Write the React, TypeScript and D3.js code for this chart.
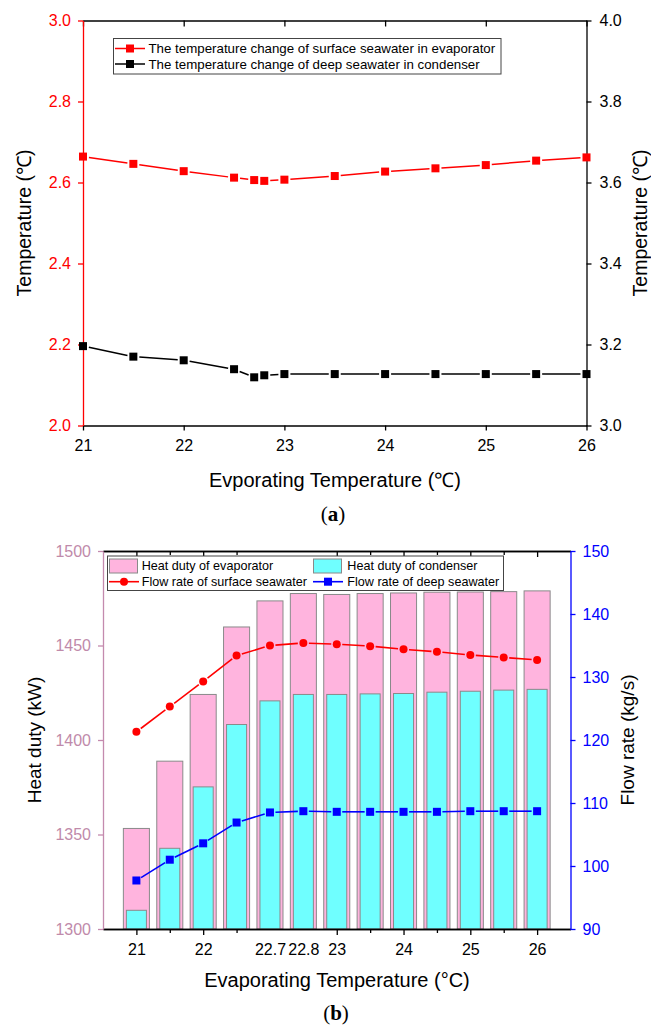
import { useEffect, useRef } from 'react';
import * as d3 from 'd3';

// ---- (a) temperature change of seawater ----
const evapTemps = [21, 21.5, 22, 22.5, 22.7, 22.8, 23, 23.5, 24, 24.5, 25, 25.5, 26];
const surfaceDeltaT = [2.664, 2.646, 2.628, 2.612, 2.606, 2.604, 2.607, 2.616, 2.627, 2.635, 2.643, 2.654, 2.662];
const deepDeltaT = [3.196, 3.17, 3.161, 3.139, 3.119, 3.124, 3.127, 3.127, 3.127, 3.127, 3.127, 3.127, 3.127];
const topXTicks = [21, 22, 23, 24, 25, 26];
const topLeftTicks = [2.0, 2.2, 2.4, 2.6, 2.8, 3.0];
const topRightTicks = [3.0, 3.2, 3.4, 3.6, 3.8, 4.0];
const topLegend = [
  'The temperature change of surface seawater in evaporator',
  'The temperature change of deep seawater in condenser',
];

// ---- (b) heat duty and flow rate ----
const categories = ['21', '21.5', '22', '22.5', '22.7', '22.8', '23', '23.5', '24', '24.5', '25', '25.5', '26'];
const evapDuty = [1353.2, 1388.8, 1424.1, 1459.8, 1473.6, 1477.5, 1477.0, 1477.5, 1477.8, 1478.2, 1478.3, 1478.5, 1478.9];
const condDuty = [1309.9, 1342.7, 1375.2, 1408.2, 1420.7, 1424.1, 1424.1, 1424.4, 1424.6, 1425.3, 1425.8, 1426.4, 1426.8];
const surfaceFlow = [121.3, 125.3, 129.3, 133.4, 135.0, 135.4, 135.2, 134.9, 134.4, 134.0, 133.5, 133.1, 132.7];
const deepFlow = [97.7, 101.0, 103.6, 106.9, 108.5, 108.7, 108.6, 108.6, 108.6, 108.6, 108.7, 108.7, 108.7];
const majorCats = ['21', '22', '23', '24', '25', '26'];
const minorCats = ['21.5', '22.5', '23.5', '24.5', '25.5'];
const labelCats = ['21', '22', '22.7', '22.8', '23', '24', '25', '26'];
const dutyTicks = [1300, 1350, 1400, 1450, 1500];
const flowTicks = [90, 100, 110, 120, 130, 140, 150];
const bottomLegend = ['Heat duty of evaporator', 'Heat duty of condenser', 'Flow rate of surface seawater', 'Flow rate of deep seawater'];

const FONT = '"Liberation Sans", Arial, sans-serif';
const PINK = '#ffb4de';
const CYAN = '#6fffff';
const MAUVE = '#c48aae';

type Pt = [number, number];

// Origin-style line: segments stop short of the markers
function gappedLine(g: any, pts: Pt[], color: string, gap: number, width = 1.5) {
  for (let i = 0; i < pts.length - 1; i++) {
    const [x1, y1] = pts[i];
    const [x2, y2] = pts[i + 1];
    const len = Math.hypot(x2 - x1, y2 - y1);
    if (len <= gap * 2) continue;
    const ux = (x2 - x1) / len, uy = (y2 - y1) / len;
    g.append('line')
      .attr('x1', x1 + ux * gap).attr('y1', y1 + uy * gap)
      .attr('x2', x2 - ux * gap).attr('y2', y2 - uy * gap)
      .attr('stroke', color).attr('stroke-width', width);
  }
}

function styleAxis(sel: any, color: string, size: number, textColor = color) {
  sel.select('.domain').attr('stroke', color).attr('stroke-width', 1.3);
  sel.selectAll('.tick line').attr('stroke', color).attr('stroke-width', 1.3);
  sel.selectAll('.tick text').attr('fill', textColor).attr('font-size', size).attr('font-family', FONT);
}

function panelLabel(svg: any, x: number, y: number, letter: string) {
  const t = svg.append('text').attr('x', x).attr('y', y).attr('text-anchor', 'middle')
    .attr('font-family', '"Liberation Serif", "DejaVu Serif", serif').attr('font-size', 21).attr('fill', '#000');
  t.append('tspan').text('(');
  t.append('tspan').attr('font-weight', 700).text(letter);
  t.append('tspan').text(')');
}

export default function App() {
  const svgRef = useRef<SVGSVGElement | null>(null);

  useEffect(() => {
    const svg = d3.select(svgRef.current);
    svg.selectAll('*').remove();

    // ================= (a) =================
    const xT = d3.scaleLinear().domain([21, 26]).range([83, 586.5]);
    const yT = d3.scaleLinear().domain([2, 3]).range([425.5, 20.5]);
    const yTR = d3.scaleLinear().domain([3, 4]).range([425.5, 20.5]);
    const a = svg.append('g');

    // top axis (inward ticks, no labels)
    const topAx = a.append('g').attr('transform', `translate(0,${yT.range()[1]})`)
      .call(d3.axisTop(xT).tickValues(topXTicks).tickSizeInner(-6).tickSizeOuter(0).tickFormat(() => ''));
    styleAxis(topAx, '#000', 16);

    const botAx = a.append('g').attr('transform', `translate(0,${yT.range()[0]})`)
      .call(d3.axisBottom(xT).tickValues(topXTicks).tickSizeInner(5).tickSizeOuter(0).tickPadding(9).tickFormat(d3.format('d')));
    styleAxis(botAx, '#000', 16);

    const rAx = a.append('g').attr('transform', `translate(${xT.range()[1]},0)`)
      .call(d3.axisRight(yTR).tickValues(topRightTicks).tickSizeInner(5).tickSizeOuter(0).tickPadding(8).tickFormat(d3.format('.1f')));
    styleAxis(rAx, '#000', 16);

    const lAx = a.append('g').attr('transform', `translate(${xT.range()[0]},0)`)
      .call(d3.axisLeft(yT).tickValues(topLeftTicks).tickSizeInner(5).tickSizeOuter(0).tickPadding(7).tickFormat(d3.format('.1f')));
    styleAxis(lAx, '#ff0000', 16);

    // series
    const redPts: Pt[] = evapTemps.map((t, i) => [xT(t), yT(surfaceDeltaT[i])]);
    const blackPts: Pt[] = evapTemps.map((t, i) => [xT(t), yTR(deepDeltaT[i])]);
    gappedLine(a, redPts, '#ff0000', 6);
    gappedLine(a, blackPts, '#000', 6);
    const sq = 8;
    a.selectAll('rect.red').data(redPts).join('rect').attr('class', 'red')
      .attr('x', d => d[0] - sq / 2).attr('y', d => d[1] - sq / 2).attr('width', sq).attr('height', sq).attr('fill', '#ff0000');
    a.selectAll('rect.blk').data(blackPts).join('rect').attr('class', 'blk')
      .attr('x', d => d[0] - sq / 2).attr('y', d => d[1] - sq / 2).attr('width', sq).attr('height', sq).attr('fill', '#000');

    // legend
    const lgA = a.append('g');
    lgA.append('rect').attr('x', 113.5).attr('y', 38.5).attr('width', 387.5).attr('height', 35.5)
      .attr('fill', '#fff').attr('stroke', '#444').attr('stroke-width', 1);
    [['#ff0000', 48.5], ['#000', 64]].forEach(([c, y], i) => {
      lgA.append('line').attr('x1', 115).attr('x2', 145).attr('y1', y).attr('y2', y).attr('stroke', c).attr('stroke-width', 1.5);
      lgA.append('rect').attr('x', 126).attr('y', (y as number) - 4).attr('width', 8).attr('height', 8).attr('fill', c as string);
      lgA.append('text').attr('x', 148.5).attr('y', (y as number) + 4.5).attr('font-family', FONT).attr('font-size', 13.3)
        .attr('fill', '#000').text(topLegend[i]);
    });

    // titles
    a.append('text').attr('transform', `translate(31,223) rotate(-90)`).attr('text-anchor', 'middle')
      .attr('font-family', FONT).attr('font-size', 19.5).text('Temperature (℃)');
    a.append('text').attr('transform', `translate(647,223) rotate(-90)`).attr('text-anchor', 'middle')
      .attr('font-family', FONT).attr('font-size', 19.5).text('Temperature (℃)');
    a.append('text').attr('x', 335).attr('y', 487).attr('text-anchor', 'middle')
      .attr('font-family', FONT).attr('font-size', 20).text('Evporating Temperature (℃)');
    panelLabel(svg, 333, 521, 'a');

    // ================= (b) =================
    const xB = d3.scalePoint<string>().domain(categories).range([103, 570.5]).padding(1);
    const step = xB.step();
    const yB = d3.scaleLinear().domain([1300, 1500]).range([929, 551]);
    const yBR = d3.scaleLinear().domain([90, 150]).range([929, 551]);
    const b = svg.append('g');

    // bars
    const wEvap = step * 0.78, wCond = step * 0.6;
    b.selectAll('rect.evap').data(categories).join('rect').attr('class', 'evap')
      .attr('x', c => (xB(c) as number) - wEvap / 2).attr('width', wEvap)
      .attr('y', (_, i) => yB(evapDuty[i])).attr('height', (_, i) => yB(1300) - yB(evapDuty[i]))
      .attr('fill', PINK).attr('stroke', '#8a8a8a').attr('stroke-width', 1);
    b.selectAll('rect.cond').data(categories).join('rect').attr('class', 'cond')
      .attr('x', c => (xB(c) as number) - wCond / 2).attr('width', wCond)
      .attr('y', (_, i) => yB(condDuty[i])).attr('height', (_, i) => yB(1300) - yB(condDuty[i]))
      .attr('fill', CYAN).attr('stroke', '#8a8a8a').attr('stroke-width', 1);

    // axes
    const bTop = b.append('g').attr('transform', `translate(0,551)`)
      .call(d3.axisTop(xB).tickValues(majorCats).tickSizeInner(-6).tickSizeOuter(0).tickFormat(() => ''));
    styleAxis(bTop, '#000', 16);
    const bTopMinor = b.append('g').attr('transform', `translate(0,551)`)
      .call(d3.axisTop(xB).tickValues(minorCats).tickSizeInner(-4).tickSizeOuter(0).tickFormat(() => ''));
    styleAxis(bTopMinor, '#000', 16);

    const bBot = b.append('g').attr('transform', `translate(0,929)`)
      .call(d3.axisBottom(xB).tickValues(majorCats).tickSizeInner(6).tickSizeOuter(0).tickFormat(() => ''));
    styleAxis(bBot, '#000', 16);
    const bBotMinor = b.append('g').attr('transform', `translate(0,929)`)
      .call(d3.axisBottom(xB).tickValues(minorCats).tickSizeInner(4).tickSizeOuter(0).tickFormat(() => ''));
    styleAxis(bBotMinor, '#000', 16);
    const bLabels = b.append('g').attr('transform', `translate(0,929)`)
      .call(d3.axisBottom(xB).tickValues(labelCats).tickSize(0).tickPadding(15));
    bLabels.select('.domain').remove();
    styleAxis(bLabels, '#000', 16);

    const bL = b.append('g').attr('transform', `translate(103,0)`)
      .call(d3.axisLeft(yB).tickValues(dutyTicks).tickSizeInner(5).tickSizeOuter(0).tickPadding(7).tickFormat(d3.format('d')));
    styleAxis(bL, MAUVE, 16, '#c08aaa');

    const bR = b.append('g').attr('transform', `translate(570.5,0)`)
      .call(d3.axisRight(yBR).tickValues(flowTicks).tickSizeInner(5).tickSizeOuter(0).tickPadding(7).tickFormat(d3.format('d')));
    styleAxis(bR, '#0000ff', 16);

    // flow lines
    const sPts: Pt[] = categories.map((c, i) => [xB(c) as number, yBR(surfaceFlow[i])]);
    const dPts: Pt[] = categories.map((c, i) => [xB(c) as number, yBR(deepFlow[i])]);
    gappedLine(b, sPts, '#ff0000', 5.5, 1.6);
    gappedLine(b, dPts, '#0000ff', 5.5, 1.6);
    b.selectAll('circle.sf').data(sPts).join('circle').attr('class', 'sf')
      .attr('cx', d => d[0]).attr('cy', d => d[1]).attr('r', 4).attr('fill', '#ff0000');
    b.selectAll('rect.df').data(dPts).join('rect').attr('class', 'df')
      .attr('x', d => d[0] - 4).attr('y', d => d[1] - 4).attr('width', 8).attr('height', 8).attr('fill', '#0000ff');

    // legend
    const lgB = b.append('g');
    lgB.append('rect').attr('x', 107.5).attr('y', 556).attr('width', 396).attr('height', 34.5)
      .attr('fill', '#fff').attr('stroke', '#444').attr('stroke-width', 1);
    const colX = [109, 313];
    const textX = [141.7, 347.3];
    [PINK, CYAN].forEach((c, i) => {
      lgB.append('rect').attr('x', colX[i] + 0.5).attr('y', 559).attr('width', 28).attr('height', 14)
        .attr('fill', c).attr('stroke', '#8a8a8a');
      lgB.append('text').attr('x', textX[i]).attr('y', 570.3).attr('font-family', FONT).attr('font-size', 12.6)
        .text(bottomLegend[i]);
    });
    ['#ff0000', '#0000ff'].forEach((c, i) => {
      const y = 581.7;
      lgB.append('line').attr('x1', colX[i]).attr('x2', colX[i] + 30).attr('y1', y).attr('y2', y)
        .attr('stroke', c).attr('stroke-width', 1.6);
      if (i === 0) lgB.append('circle').attr('cx', colX[i] + 15).attr('cy', y).attr('r', 4).attr('fill', c);
      else lgB.append('rect').attr('x', colX[i] + 11).attr('y', y - 4).attr('width', 8).attr('height', 8).attr('fill', c);
      lgB.append('text').attr('x', textX[i]).attr('y', y + 4.5).attr('font-family', FONT).attr('font-size', 12.6)
        .text(bottomLegend[i + 2]);
    });

    // titles
    b.append('text').attr('transform', `translate(41,740) rotate(-90)`).attr('text-anchor', 'middle')
      .attr('font-family', FONT).attr('font-size', 19).text('Heat duty (kW)');
    b.append('text').attr('transform', `translate(634,740) rotate(-90)`).attr('text-anchor', 'middle')
      .attr('font-family', FONT).attr('font-size', 19).text('Flow rate (kg/s)');
    b.append('text').attr('x', 337).attr('y', 987).attr('text-anchor', 'middle')
      .attr('font-family', FONT).attr('font-size', 20).text('Evaporating Temperature (°C)');
    panelLabel(svg, 336, 1020, 'b');
  }, []);

  return (
    <svg ref={svgRef} width={651} height={1028}
      style={{ position: 'absolute', left: 0, top: 0, background: '#fff' }} />
  );
}
